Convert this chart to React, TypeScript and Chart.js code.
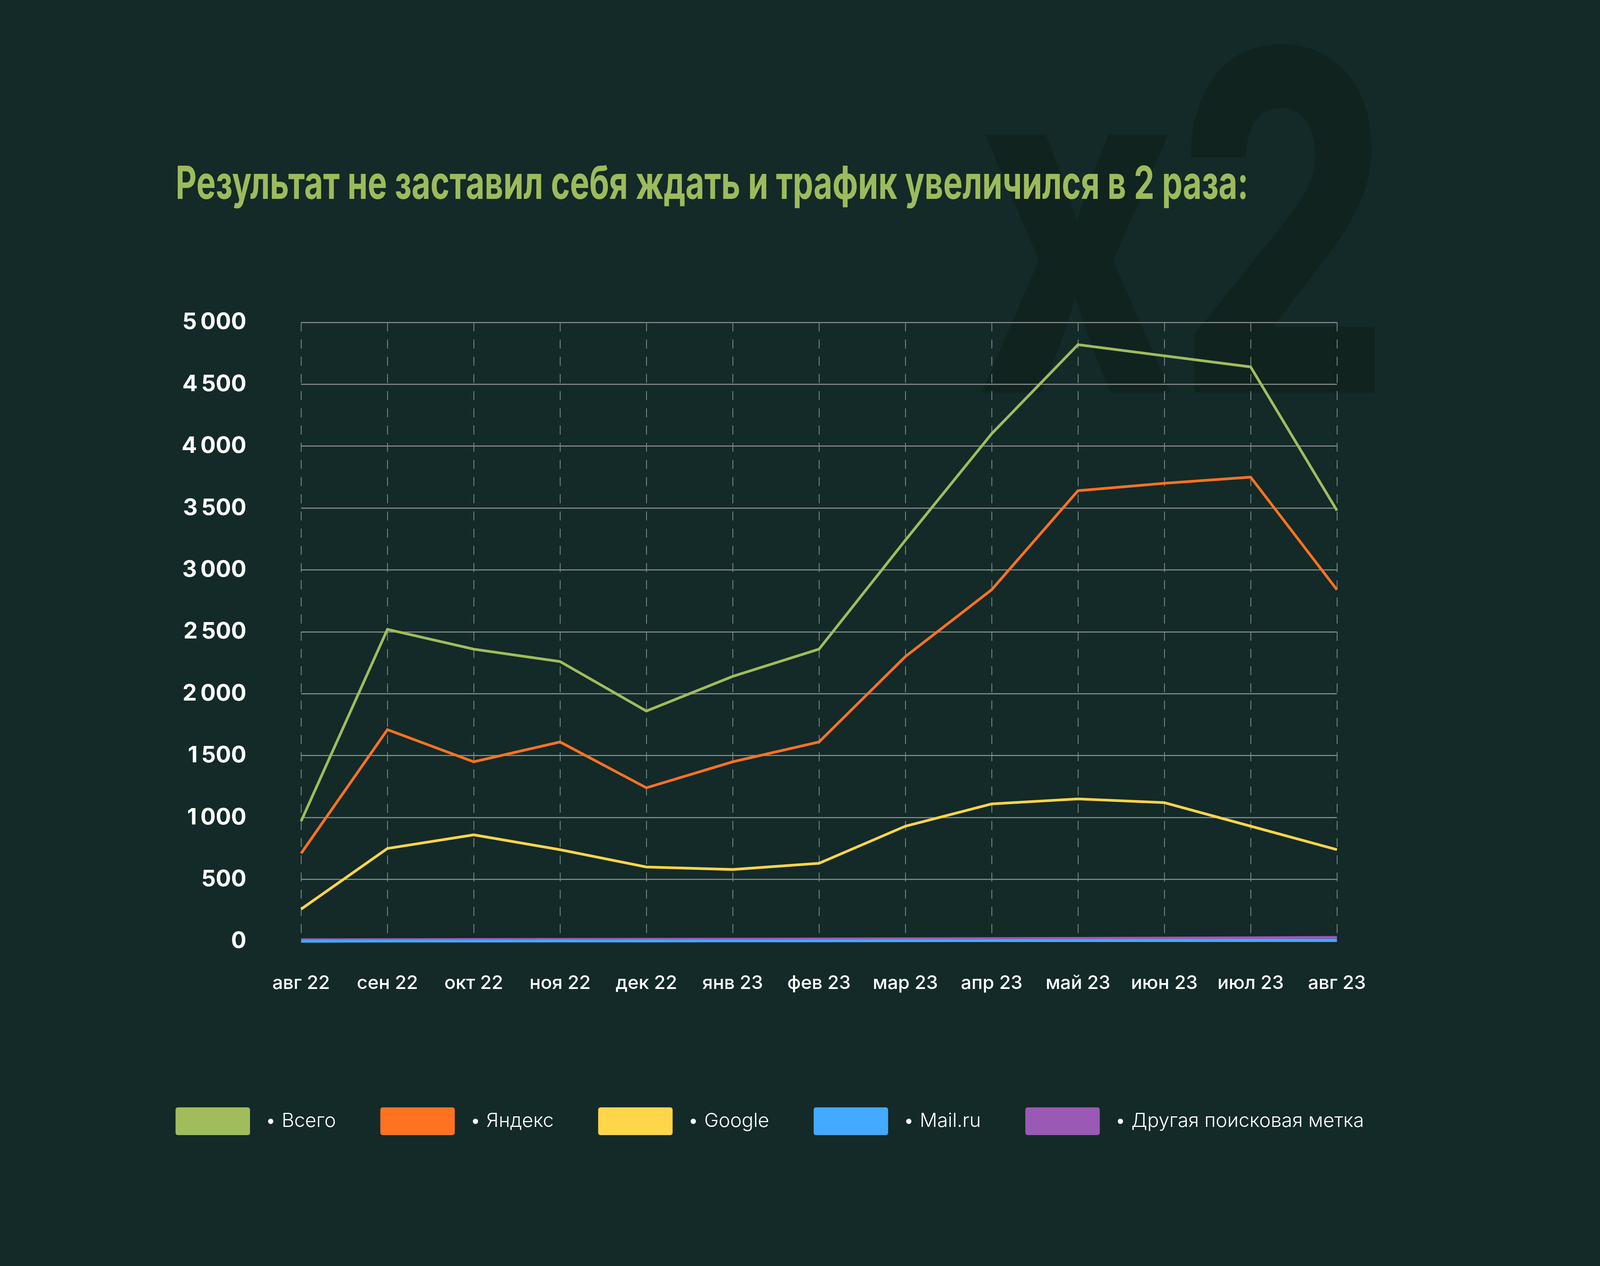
import { useEffect, useRef } from 'react';
import { Chart, registerables } from 'chart.js';

Chart.register(...registerables);

const BG = '#132a28';
const GRID = '#7e8683';
const TITLE = 'Результат не заставил себя ждать и трафик увеличился в 2 раза:';

const months = ['авг 22', 'сен 22', 'окт 22', 'ноя 22', 'дек 22', 'янв 23', 'фев 23', 'мар 23', 'апр 23', 'май 23', 'июн 23', 'июл 23', 'авг 23'];
const seriesNames = ['Всего', 'Яндекс', 'Google', 'Mail.ru', 'Другая поисковая метка'];
const seriesColors = ['#a0bc5d', '#ff7222', '#ffd54a', '#44aaff', '#9b59b6'];

const total = [970, 2520, 2360, 2260, 1860, 2140, 2360, 3240, 4100, 4820, 4730, 4640, 3480];
const yandex = [710, 1710, 1450, 1610, 1240, 1450, 1610, 2300, 2840, 3640, 3700, 3750, 2840];
const google = [260, 750, 860, 740, 600, 580, 630, 930, 1110, 1150, 1120, 930, 740];
const mail = [0, 1, 1, 2, 2, 3, 3, 4, 5, 6, 7, 8, 10];
const other = [13, 14, 15, 16, 17, 18, 19, 21, 22, 24, 26, 29, 32];

const yMax = 5000;
const yStep = 500;

const fmt = (v) => String(v).replace(/\B(?=(\d{3})+(?!\d))/g, '\u2009');

export default function App() {
  const canvasRef = useRef(null);

  useEffect(() => {
    if (!canvasRef.current) return;
    // layout was measured on a 5760x3240 frame; stretch it to the window
    const W = window.innerWidth;
    const H = window.innerHeight;
    const sx = W / 5760;
    const sy = H / 3240;
    const fa = (sx + sy) / 2;
    const values = [total, yandex, google, mail, other];

    const legendPad = 160 * sx;
    const boxH = 71 * sy;
    const legendFont = 70 * sx;
    const itemH = Math.max(boxH, legendFont);
    const legendTop = 2869.5 * sy - itemH / 2 - legendPad;
    const legendBottom = legendTop + itemH + legendPad + 10;
    const padLeft = 632 * sx - legendPad;
    const plotLeft = 1084 * sx;
    const plotRight = 4813 * sx;
    const plotBottom = 2409 * sy;
    const xFont = 56 * fa;

    const backdrop = {
      id: 'backdrop',
      beforeDraw(chart) {
        const { ctx } = chart;
        ctx.save();
        ctx.scale(sx, sy);
        ctx.textBaseline = 'alphabetic';
        ctx.textAlign = 'left';
        ctx.font = '800 1210px Inter';
        ctx.fillStyle = '#11231f';
        ctx.fillText('x2', 3515, 1005);
        ctx.font = '700 117px Inter';
        ctx.fillStyle = '#9dbb5c';
        ctx.fillText(TITLE, 632, 509);
        ctx.restore();
      },
    };

    const chart = new Chart(canvasRef.current.getContext('2d'), {
      type: 'line',
      data: {
        labels: months,
        datasets: seriesNames.map((name, i) => ({
          label: name,
          data: values[i],
          borderColor: seriesColors[i],
          backgroundColor: seriesColors[i],
          borderWidth: 8 * fa,
          pointRadius: 0,
          tension: 0,
          clip: false,
        })),
      },
      options: {
        animation: false,
        responsive: true,
        maintainAspectRatio: false,
        events: [],
        layout: { padding: { left: padLeft, right: 560 * sx, top: 825 * sy, bottom: H - legendBottom } },
        plugins: {
          title: { display: false },
          tooltip: { enabled: false },
          legend: {
            position: 'bottom',
            align: 'start',
            labels: {
              color: '#ffffff',
              font: { family: 'Inter', size: legendFont, weight: 300 },
              boxWidth: 268 * sx,
              boxHeight: boxH,
              padding: legendPad,
              useBorderRadius: true,
              borderRadius: 8 * sx,
              generateLabels: (c) =>
                c.data.datasets.map((ds, i) => ({
                  text: ' • ' + ds.label,
                  fillStyle: ds.borderColor,
                  strokeStyle: ds.borderColor,
                  lineWidth: 0,
                  hidden: false,
                  datasetIndex: i,
                  borderRadius: 8 * sx,
                  fontColor: '#ffffff',
                })),
            },
          },
        },
        scales: {
          x: {
            offset: false,
            grid: { color: GRID, lineWidth: 3 * sx, drawTicks: false },
            border: { display: false, dash: [23 * sy, 21 * sy] },
            ticks: {
              color: '#ffffff',
              font: { family: 'Inter', size: xFont, weight: 500 },
              padding: 2517 * sy - plotBottom - xFont * 0.6,
              maxRotation: 0,
              autoSkip: false,
            },
            afterFit(scale) {
              scale.height = legendTop - plotBottom;
              scale.paddingRight = W - plotRight;
            },
          },
          y: {
            min: 0,
            max: yMax,
            grid: { color: GRID, lineWidth: 3 * sy, drawTicks: false },
            border: { display: false },
            ticks: {
              stepSize: yStep,
              color: '#ffffff',
              font: { family: 'Inter', size: 68 * fa, weight: 700 },
              padding: plotLeft - 887 * sx,
              callback: (v) => fmt(v),
            },
            afterFit(scale) {
              scale.width = plotLeft - padLeft;
            },
          },
        },
      },
      plugins: [backdrop],
    });

    return () => {
      chart.destroy();
    };
  }, []);

  return (
    <div style={{ position: 'fixed', left: 0, top: 0, width: '100vw', height: '100vh', background: BG }}>
      <div style={{ position: 'relative', width: '100%', height: '100%' }}>
        <canvas ref={canvasRef}></canvas>
      </div>
    </div>
  );
}
